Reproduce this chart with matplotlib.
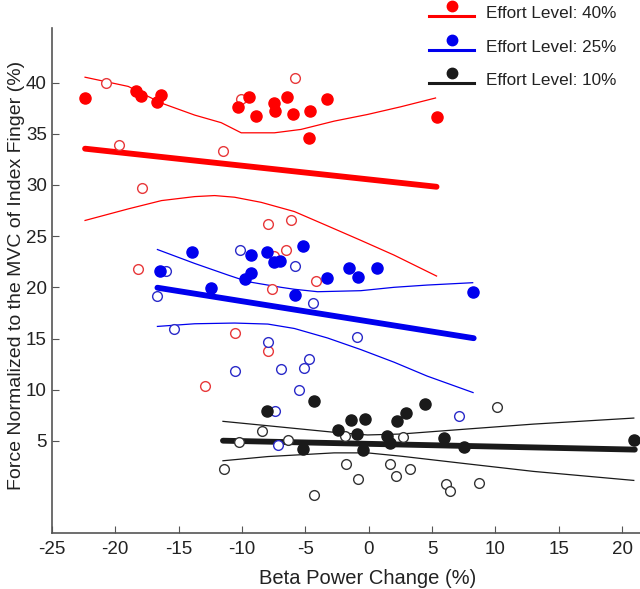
import numpy as np
import matplotlib.pyplot as plt
from matplotlib.legend_handler import HandlerBase
from matplotlib.lines import Line2D

plt.rcParams['font.family'] = ['Liberation Sans', 'DejaVu Sans']
plt.rcParams['axes.unicode_minus'] = False

# --- datos: nivel 40% (rojo)
red_fill_x = [-22.38, -18.40, -17.98, -16.41, -16.67, -10.32, -9.41, -8.88, -7.44, -7.37, -6.47, -6.00, -4.61, -3.33, -4.69, 5.35]
red_fill_y = [38.49, 39.14, 38.72, 38.82, 38.07, 37.59, 38.62, 36.76, 38.00, 37.26, 38.62, 36.97, 37.26, 38.39, 34.55, 36.61]
red_open_x = [-20.75, -10.06, -5.79, -19.71, -11.53, -17.92, -7.92, -6.13, -18.18, -7.44, -6.52, -4.17, -7.65, -10.53, -7.92, -12.89]
red_open_y = [39.94, 38.39, 40.43, 33.87, 33.29, 29.70, 26.21, 26.62, 21.75, 23.10, 23.62, 20.64, 19.81, 15.54, 13.75, 10.36]
red_fit_x = [-22.38, 5.35]
red_fit_y = [33.54, 29.82]
red_up_x = [-22.38, -18.97, -16.35, -13.73, -11.64, -10.06, -7.44, -5.35, -2.73, -0.10, 2.52, 5.27]
red_up_y = [40.52, 39.62, 37.99, 36.82, 36.08, 35.09, 35.09, 35.42, 36.23, 36.88, 37.63, 38.49]
red_lo_x = [-22.38, -18.97, -16.35, -13.73, -12.16, -10.59, -8.49, -5.87, -3.25, -0.63, 1.99, 5.35]
red_lo_y = [26.53, 27.66, 28.47, 28.86, 28.96, 28.80, 28.30, 27.40, 26.00, 24.59, 23.15, 21.10]

# --- nivel 25% (azul)
blue_fill_x = [-16.43, -13.94, -12.42, -9.75, -9.32, -9.25, -8.06, -7.44, -7.00, -5.19, -5.78, -3.33, -1.55, -0.83, 0.63, 8.20]
blue_fill_y = [21.58, 23.47, 19.90, 20.78, 21.44, 23.16, 23.49, 22.50, 22.55, 24.01, 19.25, 20.87, 21.84, 21.00, 21.84, 19.57]
blue_open_x = [-15.96, -10.14, -16.67, -15.39, -7.92, -5.79, -4.38, -0.89, -4.69, -10.53, -6.92, -5.13, -5.48, -7.39, -7.18, 7.10]
blue_open_y = [21.58, 23.69, 19.16, 15.96, 14.63, 22.10, 18.45, 15.13, 12.95, 11.81, 12.05, 12.10, 9.97, 7.88, 4.61, 7.45]
blue_fit_x = [-16.67, 8.28]
blue_fit_y = [19.96, 15.03]
blue_up_x = [-16.67, -13.73, -11.11, -9.54, -6.92, -5.87, -4.03, -0.63, 1.99, 4.61, 8.20]
blue_up_y = [23.69, 22.33, 21.20, 20.55, 20.00, 19.81, 19.57, 19.67, 20.00, 20.22, 20.45]
blue_lo_x = [-16.67, -13.73, -10.59, -7.96, -5.87, -3.25, -0.63, 1.99, 4.61, 8.23]
blue_lo_y = [16.18, 16.44, 16.51, 16.41, 15.98, 15.05, 13.92, 12.69, 11.33, 9.72]

# --- nivel 10% (negro)
black_fill_x = [-8.04, -4.30, -2.41, -1.36, -0.31, -0.89, -5.17, -0.45, 1.47, 1.65, 2.26, 2.91, 4.43, 5.92, 7.49, 20.91]
black_fill_y = [7.93, 8.90, 6.09, 7.03, 7.13, 5.67, 4.22, 4.15, 5.51, 4.75, 6.91, 7.68, 8.58, 5.26, 4.44, 5.09]
black_open_x = [-11.45, -10.24, -8.41, -6.39, -4.35, -1.89, -1.83, -0.81, 1.67, 2.12, 2.70, 3.22, 6.13, 6.39, 8.70, 10.12]
black_open_y = [2.21, 4.87, 5.94, 5.09, -0.31, 5.51, 2.79, 1.31, 2.79, 1.57, 5.41, 2.21, 0.82, 0.08, 0.92, 8.29]
black_fit_x = [-11.50, 20.99]
black_fit_y = [5.02, 4.15]
black_up_x = [-11.50, -7.96, -2.73, -0.10, 2.52, 7.76, 13.00, 20.91]
black_up_y = [6.91, 6.48, 5.84, 5.58, 5.67, 6.16, 6.64, 7.23]
black_lo_x = [-11.50, -7.96, -2.73, -0.10, 2.52, 7.76, 13.00, 20.91]
black_lo_y = [3.06, 3.47, 3.83, 3.83, 3.51, 2.76, 2.02, 1.14]

labels = ['Effort Level: 40%', 'Effort Level: 25%', 'Effort Level: 10%']


# leyenda: punto encima de la linea
class DotOverLine(HandlerBase):
    def create_artists(self, legend, orig, xd, yd, w, h, fs, trans):
        c = orig.get_color()
        ln = Line2D([xd, xd + w], [yd + 0.15 * h, yd + 0.15 * h], color=c, lw=2.2, transform=trans)
        dot = Line2D([xd + w / 2], [yd + 1.0 * h], marker='o', ms=7.5, color=c, ls='none', transform=trans)
        return [ln, dot]


fig = plt.figure(figsize=(6.4, 5.89), dpi=100)
ax = fig.add_axes([0.081, 0.095, 0.919, 0.857])

groups = [
    ('#ff0000', '#e8383a', red_fill_x, red_fill_y, red_open_x, red_open_y, red_fit_x, red_fit_y,
     red_up_x, red_up_y, red_lo_x, red_lo_y),
    ('#0000ee', '#2a2ac8', blue_fill_x, blue_fill_y, blue_open_x, blue_open_y, blue_fit_x, blue_fit_y,
     blue_up_x, blue_up_y, blue_lo_x, blue_lo_y),
    ('#1a1a1a', '#333333', black_fill_x, black_fill_y, black_open_x, black_open_y, black_fit_x, black_fit_y,
     black_up_x, black_up_y, black_lo_x, black_lo_y),
]

handles = []
for col, ocol, fx, fy, ox, oy, lx, ly, ux, uy, dx, dy in groups:
    ax.plot(ux, uy, color=col, lw=0.9, zorder=2)
    ax.plot(dx, dy, color=col, lw=0.9, zorder=2)
    h, = ax.plot(lx, ly, color=col, lw=4.2, solid_capstyle='round', zorder=3)
    ax.plot(ox, oy, 'o', ms=7, mfc='white', mec=ocol, mew=1.0, ls='none', zorder=4)
    ax.plot(fx, fy, 'o', ms=8, color=col, ls='none', zorder=5)
    handles.append(h)

ax.set_xlim(-25, 21.4)
ax.set_ylim(-4, 45.3)
ax.set_xticks(np.arange(-25, 21, 5))
ax.set_yticks(np.arange(5, 41, 5))
ax.tick_params(direction='in', length=5, colors='#555555', labelcolor='#222222', labelsize=13.5)
ax.tick_params(axis='x', pad=6)
for s in ['top', 'right']:
    ax.spines[s].set_visible(False)
for s in ['left', 'bottom']:
    ax.spines[s].set_color('#555555')
    ax.spines[s].set_linewidth(1.2)

ax.set_xlabel('Beta Power Change (%)', fontsize=14.5, color='#222222')
ax.set_ylabel('Force Normalized to the MVC of Index Finger (%)', fontsize=14, color='#222222')
ax.xaxis.set_label_coords(0.537, -0.072)
ax.yaxis.set_label_coords(-0.046, 0.51)

fig.legend(handles, labels, handler_map={Line2D: DotOverLine()}, loc='upper left',
           bbox_to_anchor=(0.647, 1.016), frameon=False, fontsize=12.3, labelspacing=1.09,
           handlelength=2.6, handletextpad=0.7, labelcolor='#222222')

fig.savefig('out.png', dpi=100)
